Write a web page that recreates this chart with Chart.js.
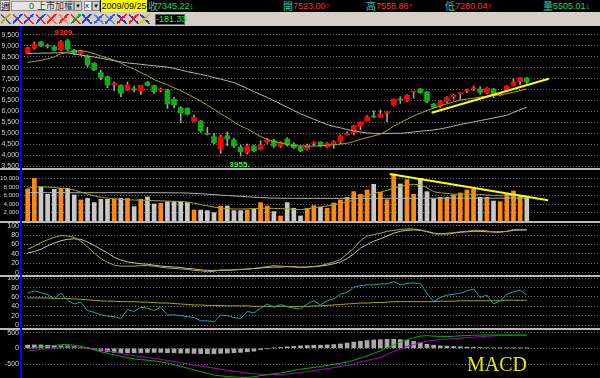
<!DOCTYPE html>
<html><head><meta charset="utf-8">
<script src="https://cdn.jsdelivr.net/npm/chart.js@4"></script>
<style>
body{margin:0;background:#000;width:600px;height:378px;overflow:hidden;position:relative;font-family:"Liberation Sans",Arial,sans-serif}
.a{position:absolute;white-space:nowrap}
canvas{position:absolute;left:0}
.sep{position:absolute;left:0;width:600px;height:2px;background:#b8b8b8}
.t{position:absolute;top:0;height:12px;line-height:12px;font-size:9px}
.cj{font-family:"Noto Sans CJK TC";font-size:10px}
.ic{position:absolute;top:14px;width:10px;height:10px}
</style></head><body>
<!-- toolbar -->
<div class="a" style="left:0;top:0;width:600px;height:26px;background:#d4d0c8"></div>
<div class="a" style="left:100px;top:0;width:500px;height:12px;background:#000"></div>
<div class="a cj" style="left:0;top:0;width:10px;height:11px;line-height:11px;background:#f0f0f0;border:1px solid #808080;box-sizing:border-box;font-size:9px;text-align:center;color:#000">週</div>
<div class="a" style="left:11px;top:1px;width:63px;height:10px;background:#e4e4e4;border:1px solid #909090;box-sizing:border-box"></div>
<div class="a" style="left:29px;top:0;height:12px;line-height:12px;font-size:9px;color:#444">0</div>
<div class="a cj" style="left:37px;top:0;height:12px;line-height:12px;font-size:9px;color:#333">上市加權</div>
<div class="a" style="left:74px;top:1px;width:8px;height:10px;background:#d4d0c8;border:1px solid #808080;box-sizing:border-box;font-size:6px;line-height:8px;text-align:center;color:#000">▼</div>
<div class="a" style="left:84px;top:1px;width:8px;height:10px;background:#fff;border:1px solid #909090;box-sizing:border-box;font-size:8px;line-height:8px;color:#000">x</div>
<div class="a" style="left:92px;top:1px;width:8px;height:10px;background:#d4d0c8;border:1px solid #808080;box-sizing:border-box;font-size:6px;line-height:8px;text-align:center;color:#000">▼</div>
<div class="t" style="left:101px;width:46px;background:#ffff00;color:#000;text-align:center">2009/09/25</div>
<div class="t cj" style="left:148px;color:#30c8b0">收</div><div class="t" style="left:157px;color:#00e060">7345.22↓</div>
<div class="t cj" style="left:283px;color:#30c8b0">開</div><div class="t" style="left:293px;color:#ff3030">7523.00↑</div>
<div class="t cj" style="left:366px;color:#30c8b0">高</div><div class="t" style="left:376px;color:#ff3030">7558.88↑</div>
<div class="t cj" style="left:445px;color:#30c8b0">低</div><div class="t" style="left:455px;color:#ff3030">7280.04↑</div>
<div class="t cj" style="left:543px;color:#30c8b0">量</div><div class="t" style="left:553px;color:#00e060">5505.01↓</div>
<div id="icons"></div>
<div class="a" style="left:155px;top:14px;width:30px;height:11px;background:#000;border:1px solid #606060;box-sizing:border-box;color:#00ff40;font-size:9px;line-height:9px;text-align:center">-181.33</div>

<canvas id="cp" width="600" height="143" style="top:26px;width:600px;height:143px"></canvas>
<canvas id="cv" width="600" height="52" style="top:170px;width:600px;height:52px"></canvas>
<canvas id="ck" width="600" height="52" style="top:223px;width:600px;height:52px"></canvas>
<canvas id="cr" width="600" height="51" style="top:277px;width:600px;height:51px"></canvas>
<canvas id="cm" width="600" height="48" style="top:330px;width:600px;height:48px"></canvas>
<div class="sep" style="top:168px"></div>
<div class="sep" style="top:221px;height:2px"></div>
<div class="sep" style="top:275px"></div>
<div class="sep" style="top:328px"></div>
<div class="a" style="left:20px;top:26px;width:2px;height:352px;background:#0000ff"></div>
<div class="a" style="left:467px;top:353px;font-family:'Liberation Serif','Times New Roman',serif;font-size:20px;color:#e8e800">MACD</div>

<script>
// ---- tick labels ----
const priceTicks = [3500,4000,4500,5000,5500,6000,6500,7000,7500,8000,8500,9000,9500];
const volTicks = [2000,4000,6000,8000,10000];
const kdTicks = [0,20,40,60,80,100];
const rsiTicks = [0,20,40,60,80,100];
const macdTicks = [-500,0,500];

// ---- data (weekly, index 0..75) ----
const open = [8660,8905,9180,9011,8966,8813,9240,8813,8660,8538, 8202,7774,7591,7224,7194,6980,7041,6950,7332,7179, 6965,6980,6553,6171,6140,5545,5560,4995,4842,4293, 4888,4690,4354,4125,4415,4262,4598,4660,4415,4736, 4491,4369,4262,4537,4598,4384,4507,4614,4934,5026, 5331,5575,5789,5728,5942,6293,6568,6492,6889,7026, 6889,6339,6247,6461,6675,6813,6935,7041,7026,6843, 7026,6736,6950,7194,7362,7523];
const high = [8950,9180,9210,9088,9011,9240,9309,8843,8813,8584, 8232,7897,7622,7347,7224,7347,7163,7194,7377,7209, 7072,7011,6644,6217,6171,5835,5590,5270,4995,4919, 5056,4766,4461,4507,4461,4660,4766,4721,4614,4797, 4568,4415,4507,4614,4614,4568,4660,4919,5071,5377, 5530,5804,6034,6064,5988,6568,6675,6767,6919,7056, 6919,6370,6492,6675,6797,6858,7026,7163,7133,7087, 7056,6828,7179,7499,7560,7559];
const low = [8630,8843,8966,8905,8782,8782,8782,8599,8599,8049, 7866,7438,7087,6950,6675,6950,6889,6767,7163,6828, 6904,6140,6156,5484,5835,5514,5050,4919,4507,4079, 4430,4339,3955,4049,4156,4232,4537,4354,4354,4415, 4308,4156,4232,4415,4384,4354,4308,4507,4919,4919, 5148,5560,5713,5713,5530,6247,6370,6446,6614,6828, 6400,6140,6186,6400,6553,6522,6858,6950,6797,6797, 6629,6706,6889,7163,7209,7280];
const close = [8920,9088,8996,8981,8813,9195,8843,8660,8767,8126, 7897,7561,7209,7286,6828,7209,6980,7194,7194,6904, 7026,6339,6293,5942,5881,5728,5102,4950,4568,4842, 4736,4415,4156,4431,4201,4461,4690,4415,4568,4491, 4339,4201,4446,4583,4415,4537,4614,4873,4995,5347, 5499,5759,5743,5865,5972,6568,6522,6736,6919,6858, 6461,6186,6446,6644,6752,6843,6980,7087,6874,7056, 6736,6797,7148,7347,7545,7345];
const maShort = [8250,8290,8340,8410,8500,8640,8720,8760,8780,8730, 8640,8540,8440,8350,8220,8060,7940,7780,7640,7460, 7330,7220,7080,6950,6790,6640,6470,6280,6100,5900, 5720,5520,5330,5200,5020,4850,4720,4630,4560,4490, 4430,4415,4410,4410,4430,4450,4470,4510,4540,4620, 4720,4800,4880,4960,5120,5330,5480,5640,5790,5920, 6040,6150,6250,6350,6430,6520,6560,6610,6660,6700, 6730,6760,6810,6880,6960,7030];
const maLong = [8660,8660,8670,8670,8680,8690,8680,8630,8580,8530, 8490,8440,8380,8320,8270,8220,8190,8160,8120,8090, 8060,8030,7970,7900,7820,7760,7700,7630,7550,7480, 7400,7320,7190,7050,6910,6770,6640,6490,6340,6190, 6040,5890,5770,5640,5520,5400,5310,5250,5170,5110, 5060,5010,4995,4990,4995,4995,5000,5020,5060,5090, 5120,5150,5200,5260,5330,5410,5460,5520,5580,5640, 5700,5760,5830,5950,6080,6200];
const priceTrendX = [60.7, 78.3];
const priceTrendY = [5942, 7499];

const volume = [7500,10000,7980,6280,7440,7670,7670,6120,4960,5350, 4340,5110,5110,5110,5350,5350,3410,5110,5660,4030, 4180,4570,4570,4570,4340,2630,2630,2480,2010,3490, 3560,2480,2480,2630,2790,4340,3560,2250,1240,4340, 3020,1240,3020,3640,3250,3020,4260,4960,5580,6900, 6280,7280,8600,6740,5040,11000,8680,9690,6280,10000, 6900,5190,5580,5580,6120,6590,7280,7440,5580,5580, 4720,4570,6510,7050,5970,5505];
const volMaShort = [7700,7950,8050,7950,7850,7700,7650,7300,6800,6300, 5900,5600,5400,5250,5100,5000,4950,4900,4850,4800, 4750,4700,4650,4600,4500,4200,3900,3600,3300,3100, 2950,2850,2850,2900,2950,3000,3050,3000,2950,2900, 2800,2700,2900,3150,3350,3550,3800,4200,4500,5000, 5600,6000,6500,6800,7200,7700,8100,8400,8600,8500, 7800,6900,6600,6500,6300,6300,6300,6280,6250,6100, 6000,5950,5950,5950,5960,5950];
const volMaLong = [6650,6660,6660,6650,6650,6660,6650,6640,6650,6650, 6640,6650,6660,6650,6640,6650,6650,6640,6650,6650, 6640,6630,6620,6600,6560,6480,6400,6300,6200,6100, 6000,5900,5800,5700,5600,5520,5450,5400,5370,5350, 5340,5340,5330,5340,5340,5330,5330,5340,5340,5340, 5340,5350,5350,5350,5350,5360,5360,5360,5360,5370, 5370,5370,5370,5370,5370,5380,5380,5380,5380,5380, 5380,5380,5390,5390,5390,5390];
const volTrendX = [54.4, 78.2];
const volTrendY = [11000, 4880];

const kLine = [50,56,64,70,75,79,78,75,67,55, 42,30,22,16,14,14,14,15,15,14, 12,10,9,8,7,5,4,2,3,6, 6,6,7,7,9,11,13,15,14,13, 12,12,12,13,15,19,23,28,40,52, 68,78,81,84,88,90,92,93,93,91, 87,83,82,84,85,87,88,90,90,89, 86,86,88,92,91,91];
const dLine = [42,45,50,57,63,68,71,72,71,65, 58,50,42,33,27,23,21,19,18,16, 14,13,12,11,9,8,6,5,5,5, 5,6,7,8,9,10,11,12,12,13, 13,11,12,13,14,16,19,23,30,40, 52,60,67,72,78,84,88,90,91,90, 88,84,83,82,84,86,87,88,88,87, 87,87,88,90,91,91];
const rsi = [68,73,69,65,56,68,53,45,49,31, 27,22,19,18,14,33,29,38,36,31, 38,21,22,20,18,16,9,9,7,21, 20,16,14,29,26,36,45,38,44,39, 36,34,45,52,43,52,56,66,70,81, 84,86,86,88,88,93,86,89,90,89, 68,50,59,64,66,68,73,77,59,64, 45,52,66,71,75,64];
const rsiAvg = [58,58,58,58,57,57,57,56,55,54, 53,52,51,51,50,50,50,49,49,48, 47,47,46,45,44,43,43,42,42,42, 41,41,41,41,40,40,40,40,40,40, 39,40,40,41,41,42,43,44,45,46, 47,47,48,48,49,50,50,50,50,50, 50,50,51,51,51,52,52,52,52,52, 52,52,53,53,53,53];
const dif = [0,20,45,70,95,115,120,100,65,20, -50,-110,-160,-210,-260,-300,-335,-360,-380,-400, -430,-470,-520,-575,-630,-690,-745,-800,-850,-880, -900,-915,-925,-928,-910,-870,-845,-815,-785,-750, -700,-665,-640,-610,-580,-545,-510,-475,-440,-380, -310,-240,-160,-80,20,110,200,270,340,390, 405,390,380,375,385,400,410,420,425,428, 428,428,430,430,430,430];
const dea = [-85,-60,-30,0,20,35,40,35,22,5, -20,-50,-85,-115,-160,-205,-235,-265,-290,-320, -355,-390,-420,-455,-490,-530,-565,-600,-635,-665, -700,-730,-760,-795,-815,-830,-835,-835,-833,-820, -800,-770,-740,-710,-680,-650,-615,-580,-545,-500, -440,-390,-340,-290,-200,-100,-20,60,120,180, 230,255,275,295,310,325,340,355,370,385, 400,405,407,407,407,407];
const osc = [100,110,110,100,90,80,80,60,40,10, -40,-80,-110,-130,-140,-140,-140,-140,-130,-130, -130,-140,-140,-150,-150,-160,-170,-170,-170,-160, -150,-140,-130,-110,-90,-40,-10,10,30,50, 60,80,90,100,100,110,120,140,170,200, 230,250,270,280,290,290,280,260,220,180, 130,100,80,70,60,50,40,30,25,20, 15,10,10,10,10,10];

// ---- helpers ----
const N = open.length;
const idx = Array.from({length:N},(_,i)=>i);
const pts = arr => arr.map((v,i)=>({x:i,y:v}));
const up = i => close[i] >= open[i];
const fmt = v => Math.round(v).toLocaleString('en-US');

// icons in toolbar
(function(){
  const cols=[['#c0a030','#3050c0'],['#2040ff','#ff2020'],['#2040ff','#ff2020'],['#2040ff','#ff2020'],['#ff2020','#ff6060'],['#ff2020','#ff8080'],['#20a020','#ff2020'],['#2040ff','#2040ff'],['#2060ff','#8080c0'],['#2060ff','#8080c0'],['#ff1010','#2040c0'],['#ff1010','#2040c0'],['#d0c020','#2040c0']];
  const box=document.getElementById('icons');
  cols.forEach((c,k)=>{const d=document.createElement('div');d.className='ic';d.style.left=(1+k*11.6)+'px';
    d.style.background='linear-gradient(135deg,transparent 40%,'+c[0]+' 40%,'+c[0]+' 55%,transparent 55%),linear-gradient(45deg,transparent 42%,'+c[1]+' 42%,'+c[1]+' 55%,transparent 55%)';
    box.appendChild(d);});
})();

Chart.defaults.font.family = '"Liberation Sans", Arial, sans-serif';
Chart.defaults.animation = false;

function yAxis(min, max, tickVals, cb, fs){
  return {type:'linear', min, max, position:'left',
    afterFit(s){ s.width = 21; s.paddingTop = 0; s.paddingBottom = 0; },
    afterBuildTicks(s){ s.ticks = tickVals.map(v=>({value:v})); },
    ticks:{autoSkip:false, color:'#cfcfcf', font:{size:fs||7, lineHeight:1}, padding:2, callback:cb},
    grid:{color:'#707070', lineWidth:1, drawTicks:false},
    border:{display:false, dash:[1,2]}};
}
const xAxis = {type:'linear', min:-1, max:86, display:false, offset:false, grid:{display:false}};
function lineDs(data, color, w, order){
  return {type:'line', data, borderColor:color, borderWidth:w||1, pointRadius:0, tension:0, fill:false, order:order||0};
}
function make(id, datasets, y, plugins){
  return new Chart(document.getElementById(id), {
    type:'bar', data:{datasets},
    options:{responsive:false, devicePixelRatio:1, animation:false, events:[],
      layout:{padding:0},
      plugins:{legend:{display:false}, tooltip:{enabled:false}},
      scales:{x:xAxis, y}},
    plugins: plugins||[]});
}

const priceLabels = {id:'priceLabels', afterDatasetsDraw(c){
  const x=c.scales.x, y=c.scales.y, ctx=c.ctx;
  ctx.save(); ctx.font='bold 8px "Liberation Sans"'; ctx.textAlign='center';
  const pi = high.indexOf(Math.max(...high));
  ctx.fillStyle='#ff2a2a'; ctx.fillText(high[pi]+'.', x.getPixelForValue(pi)-3, y.getPixelForValue(high[pi])-4);
  const li = low.indexOf(Math.min(...low));
  ctx.fillStyle='#30ff30'; ctx.fillText(low[li]+'.', x.getPixelForValue(li)-1, y.getPixelForValue(low[li])+11);
  ctx.restore();
}};

// price
make('cp', [
  lineDs(priceTrendX.map((v,k)=>({x:v,y:priceTrendY[k]})), '#ffff00', 2, 0),
  lineDs(pts(maShort), '#a8a418', 1, 1),
  lineDs(pts(maLong), '#b4b4b4', 1, 1),
  {data: idx.map(i=>({x:i, y:[open[i], close[i]]})), backgroundColor: idx.map(i=>up(i)?'#ff0000':'#10b010'),
   barThickness:5, grouped:false, minBarLength:1, order:2},
  {data: idx.map(i=>({x:i, y:[low[i], high[i]]})), backgroundColor:'#a0a0a0', barThickness:1, grouped:false, order:3}
], yAxis(3363, 9912, priceTicks, v=>fmt(v)), [priceLabels]);

// volume
make('cv', [
  lineDs(volTrendX.map((v,k)=>({x:v,y:volTrendY[k]})), '#ffff00', 2, 0),
  lineDs(pts(volMaShort), '#a8a418', 1, 1),
  lineDs(pts(volMaLong), '#b4b4b4', 1, 1),
  {data: pts(volume), backgroundColor: idx.map(i=>up(i)?'#ff8a10':'#c8c8c8'), barThickness:4, grouped:false, order:2}
], yAxis(-163, 11930, volTicks, v=>fmt(v), 6.2));

// KD
make('ck', [
  lineDs(pts(kLine), '#b0ac20', 1, 0),
  lineDs(pts(dLine), '#c0c0c0', 1, 1)
], yAxis(-4.9, 105.7, kdTicks, v=>String(v)));

// RSI
make('cr', [
  lineDs(pts(rsi), '#1aa6a6', 1, 0),
  lineDs(pts(rsiAvg), '#a8a418', 1, 1)
], yAxis(-6.4, 102.8, rsiTicks, v=>String(v)));

// MACD
make('cm', [
  lineDs(pts(dif), '#00b000', 1, 0),
  lineDs(pts(dea), '#b000c0', 1, 0),
  {data: pts(osc), backgroundColor:'#a8a8a8', barThickness:4, grouped:false, order:2}
], yAxis(-947, 586, macdTicks, v=>String(v)));
</script>
</body></html>
